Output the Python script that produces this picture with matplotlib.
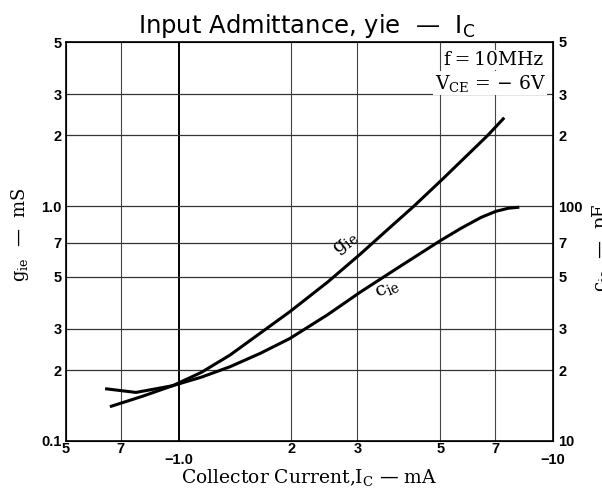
import matplotlib
matplotlib.use('Agg')
import matplotlib.pyplot as plt
import numpy as np

# values (Ic in -mA)
ic_g = [0.655, 0.80, 0.964, 1.15, 1.37, 1.98, 2.5, 3.06, 3.6, 4.25, 5.06, 6.69, 7.41]
g_ie = [0.140, 0.155, 0.172, 0.196, 0.232, 0.355, 0.475, 0.626, 0.79, 1.0, 1.30, 2.0, 2.38]  # mS

ic_c = [0.636, 0.769, 0.964, 1.15, 1.37, 1.65, 1.98, 2.5, 3.06, 3.91, 5.0, 5.68, 6.42, 7.03,
        7.6, 8.13]
c_ie = [16.7, 16.1, 17.2, 18.7, 20.7, 23.6, 27.3, 34.5, 43.1, 55.5, 71.3, 80.5, 89.5, 95.0,
        98.0, 99.0]  # pF

x_ticks = [0.5, 0.7, 2, 3, 5, 7]
x_tick_labels = ['5', '7', '2', '3', '5', '7']
x_major = [1, 10]
x_major_labels = ['\u22121.0', '\u221210']
y_ticks = [0.1, 0.2, 0.3, 0.5, 0.7, 1.0, 2, 3, 5]
y_tick_labels = ['0.1', '2', '3', '5', '7', '1.0', '2', '3', '5']
y2_ticks = [10, 20, 30, 50, 70, 100, 200, 300, 500]
y2_tick_labels = ['10', '2', '3', '5', '7', '100', '2', '3', '5']

serif = 'DejaVu Serif'
sans = 'Liberation Sans'

fig = plt.figure(figsize=(6.02, 4.95), dpi=100)
ax = fig.add_axes([66 / 602, 1 - 441 / 495, 487 / 602, 399 / 495])
ax.set_xscale('log')
ax.set_yscale('log')
ax.set_xlim(0.5, 10)
ax.set_ylim(0.1, 5)

# grid
for xv in [0.7, 2, 3, 5, 7]:
    ax.axvline(xv, color='#444444', lw=0.8, zorder=1)
ax.axvline(1.0, color='black', lw=1.4, zorder=1)
for yv in [0.2, 0.3, 0.5, 0.7, 1.0, 2, 3]:
    ax.axhline(yv, color='#333333', lw=0.9, zorder=1)

ax.plot(ic_g, g_ie, color='black', lw=2.2, zorder=3, solid_capstyle='butt')
ax.plot(ic_c, [v / 100 for v in c_ie], color='black', lw=2.2, zorder=3,
        solid_capstyle='butt')

ax.set_xticks(x_major)
ax.set_xticklabels(x_major_labels)
ax.set_xticks(x_ticks, minor=True)
ax.set_xticklabels(x_tick_labels, minor=True)
ax.tick_params(axis='x', which='major', length=0, pad=9, labelsize=10.5)
ax.tick_params(axis='x', which='minor', length=0, pad=1, labelsize=10.5)
ax.set_yticks(y_ticks)
ax.set_yticklabels(y_tick_labels)
ax.yaxis.set_minor_locator(matplotlib.ticker.NullLocator())
ax.tick_params(axis='y', which='both', length=0, pad=3, labelsize=10.5)
for lab in ax.get_xticklabels(which='both') + ax.get_yticklabels():
    lab.set_fontfamily(sans)
    lab.set_fontweight('bold')

ax2 = ax.twinx()
ax2.set_yscale('log')
ax2.set_ylim(10, 500)
ax2.set_yticks(y2_ticks)
ax2.set_yticklabels(y2_tick_labels)
ax2.yaxis.set_minor_locator(matplotlib.ticker.NullLocator())
ax2.tick_params(axis='y', which='both', length=0, pad=4, labelsize=10.5)
for lab in ax2.get_yticklabels():
    lab.set_fontfamily(sans)
    lab.set_fontweight('bold')

for sp in ax.spines.values():
    sp.set_linewidth(1.2)

# curve labels
ax.text(2.79, 0.69, '$\\mathregular{g_{ie}}$', family=serif, fontsize=14, rotation=38,
        ha='center', va='center', zorder=4)
ax.text(3.6, 0.445, '$\\mathregular{c_{ie}}$', family=serif, fontsize=14, rotation=22,
        ha='center', va='center', zorder=4)

ax.text(0.98, 0.955, 'f\u2009=\u200910MHz', transform=ax.transAxes, family=serif, fontsize=13.5,
        ha='right', va='center', zorder=5,
        bbox=dict(facecolor='white', edgecolor='none', pad=1))
ax.text(0.985, 0.897, '$\\mathregular{V_{CE}}$ = \u2212 6V', transform=ax.transAxes,
        family=serif, fontsize=13.5, ha='right', va='center', zorder=5,
        bbox=dict(facecolor='white', edgecolor='none', pad=1))

fig.text(0.51, 0.947, 'Input Admittance, yie  \u2014  $\\mathregular{I_C}$', family='DejaVu Sans',
         fontsize=17.5, ha='center', va='center')
ax.set_xlabel('Collector Current,$\\mathregular{I_C}$ \u2014 mA', family=serif, fontsize=13.5,
              labelpad=0)
fig.text(0.034, 0.525, '$\\mathregular{g_{ie}}$  \u2014  mS', family=serif, fontsize=13,
         rotation=90, ha='center', va='center')
fig.text(0.998, 0.5, '$\\mathregular{c_{ie}}$  \u2014  pF', family=serif, fontsize=13,
         rotation=90, ha='center', va='center')

fig.savefig('out.png', dpi=100)
